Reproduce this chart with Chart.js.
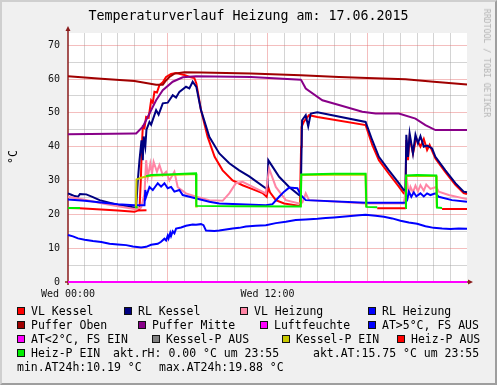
<!DOCTYPE html>
<html>
<head>
<meta charset="utf-8">
<script src="https://cdn.jsdelivr.net/npm/chart.js@4.4.0/dist/chart.umd.min.js"></script>
<style>
    body { margin: 0; background: #f0f0f0; }
    #wrap { position: relative; width: 497px; height: 385px; background: #f0f0f0; overflow: hidden; font-family: "DejaVu Sans Mono", monospace; color: #000; }
    #chart { position: absolute; left: 0; top: 0; }
    .frame { position: absolute; left: 0; top: 0; width: 497px; height: 385px; box-sizing: border-box; border-top: 2px solid #cfcfcf; border-left: 2px solid #cfcfcf; border-right: 2px solid #9e9e9e; border-bottom: 2px solid #9e9e9e; pointer-events: none; }
    #title { position: absolute; left: 0; top: 7px; width: 497px; text-align: center; font-size: 13.3px; line-height: 18px; white-space: pre; }
    #unit { position: absolute; left: 13px; top: 157px; transform: translate(-50%, -50%) rotate(-90deg); font-size: 11.5px; white-space: pre; }
    #credit { position: absolute; left: 487px; top: 63px; transform: translate(-50%, -50%) rotate(90deg); font-size: 8.2px; color: #b4b4b4; white-space: pre; }
    .leg { position: absolute; font-size: 11.5px; line-height: 14px; white-space: pre; }
    .box { position: absolute; width: 8px; height: 8px; box-sizing: border-box; border: 1px solid #111; }
</style>
</head>
<body>
<div id="wrap">
    <canvas id="chart" width="497" height="385"></canvas>
    <div id="title">Temperaturverlauf Heizung am: 17.06.2015</div>
    <div id="unit">°C</div>
    <div id="credit">RRDTOOL / TOBI OETIKER</div>
    <div id="legend"></div>
    <div class="frame"></div>
</div>
<script>
// [Stunde, Wert]; null = Lücke
const vlKessel = [[0,21.9],[0.7,21.8],[2,21.4],[3,21.1],[4.0,20.8],[4.15,21.0],[4.3,21.6],[4.38,30],[4.45,41],[4.5,45.9],[4.6,45.5],[4.7,48.8],[4.85,48.5],[5.0,53.7],[5.1,53],[5.2,56.2],[5.35,56],[5.5,58.2],[5.7,59],[5.9,60.6],[6.2,61.5],[6.5,61.8],[7.0,61.2],[7.4,60.5],[7.6,60.3],[7.72,58.7],[8.0,50.8],[8.4,42.9],[8.82,37],[9.3,33],[9.9,30],[10.5,28.6],[10.9,27.8],[11.7,26.3],[11.95,25.2],[12.05,28],[12.15,26.5],[12.5,24.2],[13.0,23.2],[13.95,22.5],[14.02,40],[14.05,45.9],[14.2,47.5],[14.5,49.3],[15.0,48.8],[17.9,46.4],[18.3,40.5],[18.7,36],[19.3,32],[19.9,28.2],[20.2,26.2],[20.3,26],[20.35,42],[20.45,36],[20.55,42.8],[20.75,38],[20.95,42.5],[21.2,40],[21.4,42.3],[21.6,39],[21.75,40.5],[22.1,36.5],[22.7,32.5],[23.3,28.7],[23.8,26.3],[24,26]];
const rlKessel = [[0,26.2],[0.2,25.8],[0.4,25.4],[0.6,25.2],[0.72,26],[1.1,25.9],[1.5,25.1],[1.9,24.2],[2.9,22.9],[3.5,22.4],[4.0,22],[4.1,22.2],[4.2,30],[4.3,36],[4.42,41.9],[4.5,36],[4.55,43],[4.65,40],[4.72,45],[4.9,47.3],[5.0,46.5],[5.3,50.8],[5.45,49.5],[5.7,52.8],[6.0,53],[6.3,55.2],[6.5,54.5],[6.7,56.2],[7.1,57.7],[7.3,57.2],[7.5,59.2],[7.72,57.7],[8.0,50.8],[8.5,42.9],[9.1,38],[9.7,35.1],[10.3,33],[10.9,31.2],[11.9,27.7],[12.0,28],[12.05,36],[12.3,34.1],[12.7,31.1],[13.3,28.1],[13.9,25.7],[14.0,25.5],[14.08,47.8],[14.3,49.3],[14.45,46],[14.6,49.8],[15.0,50.2],[17.9,47.3],[18.3,41.9],[18.7,37],[19.3,33],[19.9,29.2],[20.2,27.2],[20.3,26.8],[20.35,43.5],[20.45,37],[20.55,43.9],[20.75,38],[20.9,43.5],[21.05,41],[21.2,43.1],[21.4,40],[21.6,40.3],[21.9,39.5],[22.1,37],[22.7,33],[23.3,29.2],[23.8,26.7],[24,26.5]];
const vlHeizung = [[0,25.2],[1,24.3],[2,23.3],[3,22.4],[4.0,21.6],[4.1,21.5],[4.4,22],[4.6,26],[4.7,36],[4.8,31],[4.95,35],[5.05,32],[5.15,35.5],[5.35,32.6],[5.5,34.6],[5.7,31.6],[5.9,32.6],[6.1,30],[6.4,32.6],[6.6,28],[7.1,26.2],[7.72,25.2],[8.5,24.2],[9.3,24],[9.7,26.2],[10.1,29.2],[10.5,29.6],[11.3,27.7],[11.9,26.2],[12.1,33.5],[12.5,28.1],[13.1,24.2],[13.9,23.2],[14.1,23.5],[14.3,26.2],[14.5,24.2],[16,23.8],[17.9,23.2],[20.2,23.2],[20.4,29.6],[20.5,26],[20.6,28.1],[20.75,26.5],[20.9,28.5],[21.05,26.8],[21.2,28.6],[21.4,27],[21.55,28.8],[21.8,27.5],[22.15,28.1],[22.3,26.7],[22.9,25.7],[24,24.5]];
const rlHeizung = [[0,24.4],[1,24],[2,23.5],[3,23],[4.0,22.7],[4.6,22.7],[4.65,27.2],[4.7,25.2],[4.9,28.1],[5.1,27.2],[5.4,29.2],[5.6,28.2],[5.8,29.2],[6.0,27.7],[6.2,28.1],[6.4,26.7],[6.7,27.2],[6.9,25.7],[7.72,24.7],[8.5,23.7],[9.1,23.2],[11.9,22.7],[12.3,23.0],[12.7,25.2],[13.0,26.7],[13.3,27.9],[13.8,27.7],[14.0,25.7],[14.3,24.2],[17.9,23.4],[20.3,23.4],[20.4,24.2],[20.5,26.7],[20.65,25.2],[20.8,26.5],[20.95,25.3],[21.2,26.2],[21.4,25.3],[21.6,26.2],[21.8,25.7],[22.1,26.2],[22.3,25.2],[23.1,24.2],[24,23.7]];
const pufferOben = [[0,60.8],[2,60.1],[4,59.4],[5.3,58.3],[5.7,58.3],[5.85,59.3],[6.1,60.6],[6.4,61.6],[7,62],[8,61.9],[11,61.6],[14,61.1],[16.3,60.6],[18,60.3],[20.3,59.9],[22,59.2],[24,58.4]];
const pufferMitte = [[0,43.7],[4.0,43.9],[4.1,43.9],[4.5,45.9],[4.9,49.8],[5.3,53.7],[5.7,56.7],[6.3,59.2],[6.9,60.5],[7.7,60.8],[11,60.6],[14,59.8],[14.05,59.5],[14.3,57.2],[15.3,53.7],[16.3,52.3],[17.7,50.3],[18.5,49.8],[19.9,49.8],[20.9,48.3],[21.5,46.4],[22.1,44.9],[24,44.9]];
const luftfeuchte = [[0,0],[24,0]];
const aussen = [[0,13.9],[0.3,13.5],[0.6,12.9],[1.0,12.5],[1.5,12.1],[2.0,11.8],[2.5,11.3],[3.0,11.1],[3.5,10.9],[3.9,10.5],[4.4,10.19],[4.7,10.4],[5.0,11.0],[5.4,11.3],[5.6,11.9],[5.8,12.8],[5.9,12.3],[6.0,13.7],[6.05,12.9],[6.15,14.5],[6.2,13.6],[6.3,15.0],[6.4,14.4],[6.5,15.8],[6.8,16.1],[7.1,16.6],[7.5,17.0],[7.7,16.9],[8.0,17.1],[8.15,16.8],[8.3,15.2],[8.8,15.1],[9.1,15.2],[9.5,15.5],[9.9,15.8],[10.3,16.0],[10.7,16.4],[11.3,16.6],[11.9,16.8],[12.5,17.4],[13.1,17.8],[13.7,18.3],[14.3,18.5],[15.0,18.7],[15.5,18.9],[16.0,19.1],[16.5,19.3],[17.0,19.5],[17.5,19.7],[17.9,19.88],[18.5,19.6],[19.0,19.3],[19.5,18.8],[20.0,18.1],[20.5,17.6],[21.0,17.2],[21.5,16.5],[22.0,16.0],[22.5,15.8],[23.0,15.7],[23.5,15.8],[24,15.75]];
const kesselPEin = [[4.08,21.8],[4.12,30.3],[4.4,30.8],[4.7,31.2],[5,31.4],[6,31.6],[7,31.8],[7.7,31.9],[7.71,22.3],[7.8,22.3],[7.8,null],[14.0,22.2],[14.03,31.6],[17.9,31.8],[17.93,22.2],[17.93,null],[20.32,21.8],[20.35,31.3],[22.15,31.3],[22.18,22]];
const heizPAus = [[4.2,21.1],[4.72,21.2],[4.72,null],[18.6,21.8],[20.32,21.8],[20.32,null],[22.5,21.6],[24,21.6]];
const heizPEin = [[0,21.9],[0.72,21.9],[0.72,null],[4.05,22.1],[4.2,22.1],[4.2,null],[4.7,31.3],[5.0,31.6],[6.0,31.8],[7.0,32],[7.7,32.1],[7.72,22.5],[10,22.4],[14.0,22.3],[14.03,31.8],[16,32],[17.9,32],[17.95,22.2],[18.6,22.1],[18.6,null],[20.3,21.9],[20.33,31.5],[21.0,31.6],[22.15,31.5],[22.2,22],[22.5,21.9]];

const legendLabels = ["VL Kessel", "RL Kessel", "VL Heizung", "RL Heizung", "Puffer Oben", "Puffer Mitte", "Luftfeuchte", "AT>5°C, FS AUS", "AT<2°C, FS EIN", "Kessel-P AUS", "Kessel-P EIN", "Heiz-P AUS", "Heiz-P EIN"];
const legendColors = ["#ff0000", "#000080", "#ff85a5", "#0000ff", "#a00000", "#880088", "#ff00ff", "#0000ff", "#ff00ff", "#808080", "#c8c800", "#ff0000", "#00ee00"];
const lastTime = "23:55";

// Legendenplätze (x, Zeile) wie im Original
const legendSlots = [[17,0],[124,0],[240,0],[368,0],[17,1],[138,1],[260,1],[368,1],[17,2],[152,2],[282,2],[397,2],[17,3]];
const rowY = [311, 325, 339, 353, 367];

function toPoints(arr) {
    return arr.map(p => ({ x: p[0], y: p[1] }));
}

// Reihenfolge wie rrdtool: erste Reihe unten, letzte oben
const series = [
    { data: vlKessel, color: legendColors[0] },
    { data: rlKessel, color: legendColors[1] },
    { data: vlHeizung, color: legendColors[2] },
    { data: rlHeizung, color: legendColors[3] },
    { data: pufferOben, color: legendColors[4] },
    { data: pufferMitte, color: legendColors[5] },
    { data: luftfeuchte, color: legendColors[6] },
    { data: aussen, color: legendColors[7] },
    { data: kesselPEin, color: legendColors[10] },
    { data: heizPAus, color: legendColors[11] },
    { data: heizPEin, color: legendColors[12] }
];

const datasets = series.map((s, i) => ({
    data: toPoints(s.data),
    borderColor: s.color,
    borderWidth: 2,
    pointRadius: 0,
    tension: 0,
    fill: false,
    spanGaps: false,
    clip: false,
    order: series.length - i
}));

// Legende
const legend = document.getElementById("legend");
legendLabels.forEach((label, i) => {
    const [x, row] = legendSlots[i];
    const box = document.createElement("div");
    box.className = "box";
    box.style.left = x + "px";
    box.style.top = (rowY[row] - 4) + "px";
    box.style.background = legendColors[i];
    legend.appendChild(box);
    const txt = document.createElement("div");
    txt.className = "leg";
    txt.style.left = (x + 14) + "px";
    txt.style.top = (rowY[row] - 7) + "px";
    txt.textContent = label;
    legend.appendChild(txt);
});

function addText(x, row, text) {
    const el = document.createElement("div");
    el.className = "leg";
    el.style.left = x + "px";
    el.style.top = (rowY[row] - 7) + "px";
    el.textContent = text;
    legend.appendChild(el);
}
const atValues = aussen.map(p => p[1]);
const rhNow = luftfeuchte[luftfeuchte.length - 1][1];
const atNow = atValues[atValues.length - 1];
addText(113, 3, "akt.rH:" + rhNow.toFixed(2).padStart(5) + " °C um " + lastTime);
addText(313, 3, "akt.AT:" + atNow.toFixed(2).padStart(5) + " °C um " + lastTime);
addText(17, 4, "min.AT24h:" + Math.min(...atValues).toFixed(2) + " °C");
addText(159, 4, "max.AT24h:" + Math.max(...atValues).toFixed(2) + " °C");

const majorGrid = "rgba(230, 110, 110, 0.45)";
const minorGrid = "rgba(160, 160, 160, 0.45)";
const axisColor = "#8a1c1c";

const plotBackground = {
    id: "plotBackground",
    beforeDraw(chart) {
        const { ctx, chartArea: a } = chart;
        ctx.save();
        ctx.fillStyle = "#ffffff";
        ctx.fillRect(a.left, a.top, a.right - a.left, a.bottom - a.top);
        ctx.restore();
    }
};

const axisArrows = {
    id: "axisArrows",
    beforeDatasetsDraw(chart) {
        const { ctx, chartArea: a } = chart;
        ctx.save();
        ctx.strokeStyle = axisColor;
        ctx.fillStyle = axisColor;
        ctx.lineWidth = 1.5;
        ctx.beginPath();
        ctx.moveTo(a.left, a.bottom + 3);
        ctx.lineTo(a.left, a.top - 4);
        ctx.moveTo(a.left - 3, a.bottom);
        ctx.lineTo(a.right + 3, a.bottom);
        ctx.stroke();
        ctx.beginPath();
        ctx.moveTo(a.left, a.top - 7);
        ctx.lineTo(a.left - 2.5, a.top - 2);
        ctx.lineTo(a.left + 2.5, a.top - 2);
        ctx.closePath();
        ctx.moveTo(a.right + 6, a.bottom);
        ctx.lineTo(a.right + 1, a.bottom - 2.5);
        ctx.lineTo(a.right + 1, a.bottom + 2.5);
        ctx.closePath();
        ctx.fill();
        ctx.restore();
    }
};

new Chart(document.getElementById("chart").getContext("2d"), {
    type: "line",
    data: { datasets: datasets },
    options: {
        responsive: false,
        animation: false,
        devicePixelRatio: 1,
        layout: { padding: { top: 33, right: 30, bottom: 0, left: 0 } },
        plugins: {
            legend: { display: false },
            title: { display: false },
            tooltip: { enabled: false }
        },
        scales: {
            x: {
                type: "linear",
                min: 0,
                max: 24,
                afterFit: scale => { scale.height = 103; },
                border: { display: false },
                grid: {
                    drawTicks: false,
                    lineWidth: 1,
                    color: c => {
                        const v = c.tick.value;
                        if (v === 0 || v === 24) return "transparent";
                        return v % 6 === 0 ? majorGrid : minorGrid;
                    }
                },
                ticks: {
                    stepSize: 1,
                    autoSkip: false,
                    maxRotation: 0,
                    padding: 6,
                    color: "#111",
                    font: { family: "DejaVu Sans Mono", size: 10 },
                    callback: v => v === 0 ? "Wed 00:00" : (v === 12 ? "Wed 12:00" : "")
                }
            },
            y: {
                min: 0,
                max: 73.6,
                afterFit: scale => { scale.width = 68; },
                border: { display: false },
                grid: {
                    drawTicks: false,
                    lineWidth: 1,
                    color: c => {
                        const v = c.tick.value;
                        if (v === 0 || v % 5 !== 0) return "transparent";
                        return v % 10 === 0 ? majorGrid : minorGrid;
                    }
                },
                ticks: {
                    stepSize: 5,
                    padding: 8,
                    color: "#111",
                    font: { family: "DejaVu Sans Mono", size: 10 },
                    callback: v => v % 10 === 0 ? String(v) : ""
                }
            }
        }
    },
    plugins: [plotBackground, axisArrows]
});
</script>
</body>
</html>
